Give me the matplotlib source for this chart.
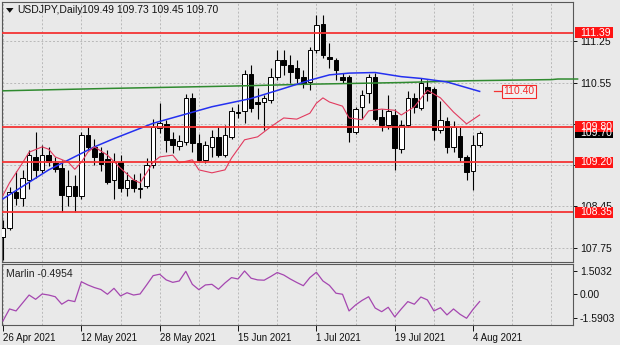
import numpy as np
import matplotlib.pyplot as plt
from matplotlib.patches import Rectangle, Polygon
from matplotlib.transforms import blended_transform_factory

plt.rcParams['font.family'] = ['Liberation Sans', 'DejaVu Sans']

# USDJPY daily, 26 Apr 2021 .. 5 Aug 2021 (bar index 0..73)
opens = [107.93, 108.08, 108.70, 108.59, 108.90, 109.29, 109.07, 109.33, 109.18, 109.10,
         108.62, 108.79, 108.62, 109.66, 109.46, 109.35, 109.25, 108.90, 109.21, 108.76,
         108.90, 108.75, 108.79, 109.15, 109.78, 109.84, 109.59, 109.48, 109.55, 110.28,
         109.52, 109.24, 109.46, 109.63, 109.32, 109.63, 110.05, 110.06, 110.70, 110.22,
         110.22, 110.26, 110.64, 110.94, 110.85, 110.80, 110.64, 110.56, 111.10, 111.54,
         110.98, 110.94, 110.64, 110.64, 109.72, 110.14, 110.37, 110.64, 109.97, 109.83,
         110.00, 109.42, 109.83, 110.28, 110.12, 110.48, 110.44, 109.75, 109.90, 109.45,
         109.64, 109.29, 109.05, 109.49]
highs = [108.22, 108.78, 109.05, 109.07, 109.40, 109.72, 109.49, 109.45, 109.29, 109.24,
         109.07, 108.98, 109.72, 109.80, 109.60, 109.46, 109.40, 109.36, 109.33, 109.04,
         109.00, 109.01, 109.27, 109.94, 110.20, 109.92, 109.72, 109.66, 110.36, 110.37,
         109.68, 109.56, 109.75, 109.80, 109.83, 110.13, 110.18, 110.76, 110.85, 110.46,
         110.34, 110.79, 111.11, 111.11, 111.02, 110.93, 110.76, 111.16, 111.70, 111.70,
         111.22, 110.96, 110.71, 110.68, 110.14, 110.42, 110.70, 110.71, 110.11, 110.34,
         110.11, 109.92, 110.40, 110.38, 110.62, 110.59, 110.47, 110.23, 109.96, 109.89,
         109.80, 109.32, 109.66, 109.73]
lows = [107.55, 108.05, 108.48, 108.45, 108.75, 108.93, 109.01, 109.13, 109.04, 108.36,
        108.45, 108.35, 108.58, 109.40, 109.15, 109.05, 108.83, 108.58, 108.70, 108.62,
        108.70, 108.59, 108.76, 109.10, 109.70, 109.38, 109.35, 109.40, 109.50, 109.38,
        109.20, 109.18, 109.29, 109.28, 109.28, 109.60, 109.95, 109.86, 110.05, 109.94,
        109.75, 110.20, 110.60, 110.68, 110.54, 110.54, 110.45, 110.42, 111.05, 110.96,
        110.79, 110.59, 110.54, 109.55, 109.68, 109.94, 110.20, 109.90, 109.73, 109.76,
        109.07, 109.35, 109.80, 110.03, 110.08, 110.23, 109.58, 109.70, 109.35, 109.38,
        109.21, 108.90, 108.73, 109.45]
closes = [108.08, 108.70, 108.59, 108.93, 109.33, 109.07, 109.32, 109.21, 109.08, 108.64,
          108.79, 108.62, 109.66, 109.45, 109.29, 109.17, 108.87, 109.21, 108.76, 108.90,
          108.76, 108.77, 109.15, 109.80, 109.86, 109.58, 109.49, 109.56, 110.28, 109.52,
          109.24, 109.50, 109.63, 109.32, 109.66, 110.07, 110.03, 110.70, 110.12, 110.18,
          110.28, 110.64, 110.94, 110.85, 110.73, 110.62, 110.54, 111.10, 111.53, 111.02,
          110.95, 110.76, 110.60, 109.72, 110.11, 110.34, 110.64, 109.94, 109.83, 110.07,
          109.44, 109.83, 110.28, 110.14, 110.54, 110.37, 109.75, 109.92, 109.46, 109.80,
          109.29, 109.04, 109.49, 109.70]

date_idx = [0, 12, 24, 36, 48, 60, 72]
date_labels = ['26 Apr 2021', '12 May 2021', '28 May 2021', '15 Jun 2021',
               '1 Jul 2021', '19 Jul 2021', '4 Aug 2021']

# moving averages (bar index, price)
blue_idx = [0, 7, 14, 17, 23, 32, 38, 43, 47, 50, 53, 57, 61, 64, 68, 73]
blue_val = [108.58, 109.07, 109.46, 109.60, 109.86, 110.14, 110.28, 110.45, 110.59,
            110.68, 110.71, 110.72, 110.65, 110.62, 110.56, 110.40]
green_idx = [0, 16, 35, 46, 61, 71, 84, 85, 88]
green_val = [110.41, 110.45, 110.49, 110.52, 110.55, 110.58, 110.60, 110.61, 110.61]
red_idx = [0, 1, 3, 4, 6, 7, 8, 10, 11, 12, 13, 14, 16, 18, 20, 21, 22, 23, 24, 26,
           27, 29, 30, 32, 34, 35, 37, 39, 41, 43, 45, 47, 48, 49, 50, 52, 53, 55, 56,
           58, 60, 61, 63, 65, 67, 69, 71, 73]
red_val = [108.64, 108.85, 109.19, 109.37, 109.46, 109.42, 109.29, 109.20, 109.08, 109.20,
           109.37, 109.46, 109.32, 109.10, 108.90, 108.85, 109.02, 109.20, 109.29, 109.32,
           109.19, 109.24, 109.07, 109.02, 109.07, 109.27, 109.58, 109.63, 109.80, 109.95,
           109.93, 110.03, 110.20, 110.29, 110.22, 110.15, 109.95, 109.92, 110.07, 110.10,
           110.08, 110.00, 110.14, 110.42, 110.29, 110.05, 109.85, 110.00]

levels = [111.39, 109.80, 109.20, 108.35]
last_price = 109.70
price_ticks = [107.75, 108.45, 109.15, 109.85, 110.55, 111.25]

marlin = [-1.76, -0.98, -1.11, -0.59, -0.07, -0.35, 0.00, -0.07, -0.18, -0.67,
          -0.41, -0.50, 0.80, 0.59, 0.42, 0.29, -0.02, 0.37, -0.13, 0.08,
          -0.07, 0.00, 0.59, 1.20, 1.29, 0.92, 0.76, 0.85, 1.48, 0.63,
          0.28, 0.59, 0.63, 0.31, 0.72, 1.07, 0.98, 1.5032, 1.03, 0.92,
          0.90, 1.14, 1.40, 1.24, 0.98, 0.75, 0.54, 1.07, 1.42, 0.85,
          0.56, 0.05, -0.02, -1.11, -0.72, -0.42, -0.18, -0.92, -1.16, -0.87,
          -1.50, -0.98, -0.50, -0.67, -0.20, -0.39, -1.11, -0.90, -1.37, -0.98,
          -1.33, -1.5903, -1.00, -0.4954]
marlin_ticks = [-1.5903, 0.0, 1.5032]

W, H = 620, 345
BG = '#e9e9e9'
FRAME = '#585858'
LEVEL_RED = '#f43434'

def fx(px):
    return px / W

def fy(py):
    return 1 - py / H

fig = plt.figure(figsize=(W / 100, H / 100), dpi=100, facecolor=BG)
ax = fig.add_axes([fx(2), fy(262), fx(571), 260 / H], facecolor=BG)
sx = fig.add_axes([fx(2), fy(325), fx(571), 61 / H], facecolor=BG)

xmin, xmax = -0.15, 87.3
for a in (ax, sx):
    a.set_xlim(xmin, xmax)
    for s in a.spines.values():
        s.set_color(FRAME)
        s.set_linewidth(0.8)
    for g in range(0, 90, 6):
        a.axvline(g, color='#b9b9b9', lw=0.7, ls=(0, (2, 2)), zorder=0)

ax.set_ylim(107.509, 111.915)
for t in price_ticks:
    ax.axhline(t, color='#b9b9b9', lw=0.7, ls=(0, (2, 2)), zorder=0)

# candles
idx = np.arange(len(opens))
o, h, l, c = (np.array(v) for v in (opens, highs, lows, closes))
ax.vlines(idx, l, h, color='black', lw=0.8, zorder=2)
body_lo = np.minimum(o, c)
body_h = np.maximum(np.abs(c - o), 0.012)
face = np.where(c >= o, 'white', 'black')
ax.bar(idx, body_h, bottom=body_lo, width=0.7, color=face, edgecolor='black',
       linewidth=0.7, zorder=3)

# moving averages
ax.plot(green_idx, green_val, color='#2f8a2f', lw=1.1, zorder=4, clip_on=False)
ax.plot(blue_idx, blue_val, color='#2430f0', lw=1.1, zorder=4)
ax.plot(red_idx, red_val, color='#e23a5e', lw=0.8, zorder=4)

# horizontal levels
for lv in levels:
    ax.axhline(lv, color=LEVEL_RED, lw=1.3, zorder=5)

# right price scale; the labels sitting under the level boxes are left blank
ax.yaxis.tick_right()
ax.set_yticks(price_ticks)
ax.set_yticklabels(['' if any(abs(t - lv) < 0.06 for lv in levels) else f'{t:.2f}'
                    for t in price_ticks])
ax.tick_params(axis='y', length=3, width=0.7, pad=2, labelsize=7.5,
               colors='#111111')
ax.tick_params(axis='x', length=0, labelbottom=False)

tr = blended_transform_factory(fig.transFigure, ax.transData)
box_h = 11 / 59.0

def price_box(price, facecolor):
    ax.add_patch(Rectangle((fx(575), price - box_h / 2), fx(38), box_h,
                           transform=tr, facecolor=facecolor, edgecolor='none',
                           clip_on=False, zorder=8))
    ax.text(fx(580), price, f'{price:.2f}', transform=tr, color='white',
            fontsize=7.5, va='center', ha='left', clip_on=False, zorder=9)

price_box(last_price, 'black')
for lv in levels:
    price_box(lv, '#ff1414')

# label for the blue average
blue_last = blue_val[-1]
ax.plot([75.2, 76.6], [blue_last, blue_last], color=LEVEL_RED, lw=0.9, zorder=6)
ax.text(79.05, blue_last, f'{blue_last:.2f}', color='#f42a2a', fontsize=7.5,
        ha='center', va='center', zorder=7,
        bbox=dict(boxstyle='square,pad=0.15', fc='#f2f2f2', ec='#f42a2a', lw=0.8))

# header
fig.patches.append(Polygon([[fx(6), fy(8)], [fx(13.5), fy(8)], [fx(9.75), fy(12.8)]],
                           closed=True, transform=fig.transFigure,
                           facecolor='#111111', edgecolor='none'))
fig.text(fx(17.3), fy(10.3), 'USDJPY,Daily', fontsize=7.5, va='center', color='#111111')
fig.text(fx(81.7), fy(10.3), ' '.join(f'{v:.2f}' for v in
                                       (opens[-1], highs[-1], lows[-1], closes[-1])),
         fontsize=7.5, va='center', color='#111111')

# Marlin oscillator
sx.plot(idx, marlin, color='#a547b0', lw=0.9, zorder=3)
sx.set_ylim(-2.03, 1.96)
sx.yaxis.tick_right()
sx.set_yticks(marlin_ticks)
sx.set_yticklabels([f'{marlin_ticks[0]:.4f}', '0.00', f'{marlin_ticks[2]:.4f}'])
sx.tick_params(axis='y', length=3, width=0.7, pad=2, labelsize=7.5, colors='#111111')
sx.set_xticks(date_idx)
sx.set_xticklabels(date_labels, ha='left')
sx.tick_params(axis='x', length=4, width=0.7, pad=1.5, labelsize=7, colors='#111111')
sx.text(0.007, 0.84, f'Marlin {marlin[-1]:.4f}', transform=sx.transAxes,
        fontsize=7.5, va='center', ha='left', color='#222222')

fig.savefig('out.png', dpi=100, facecolor=BG)
